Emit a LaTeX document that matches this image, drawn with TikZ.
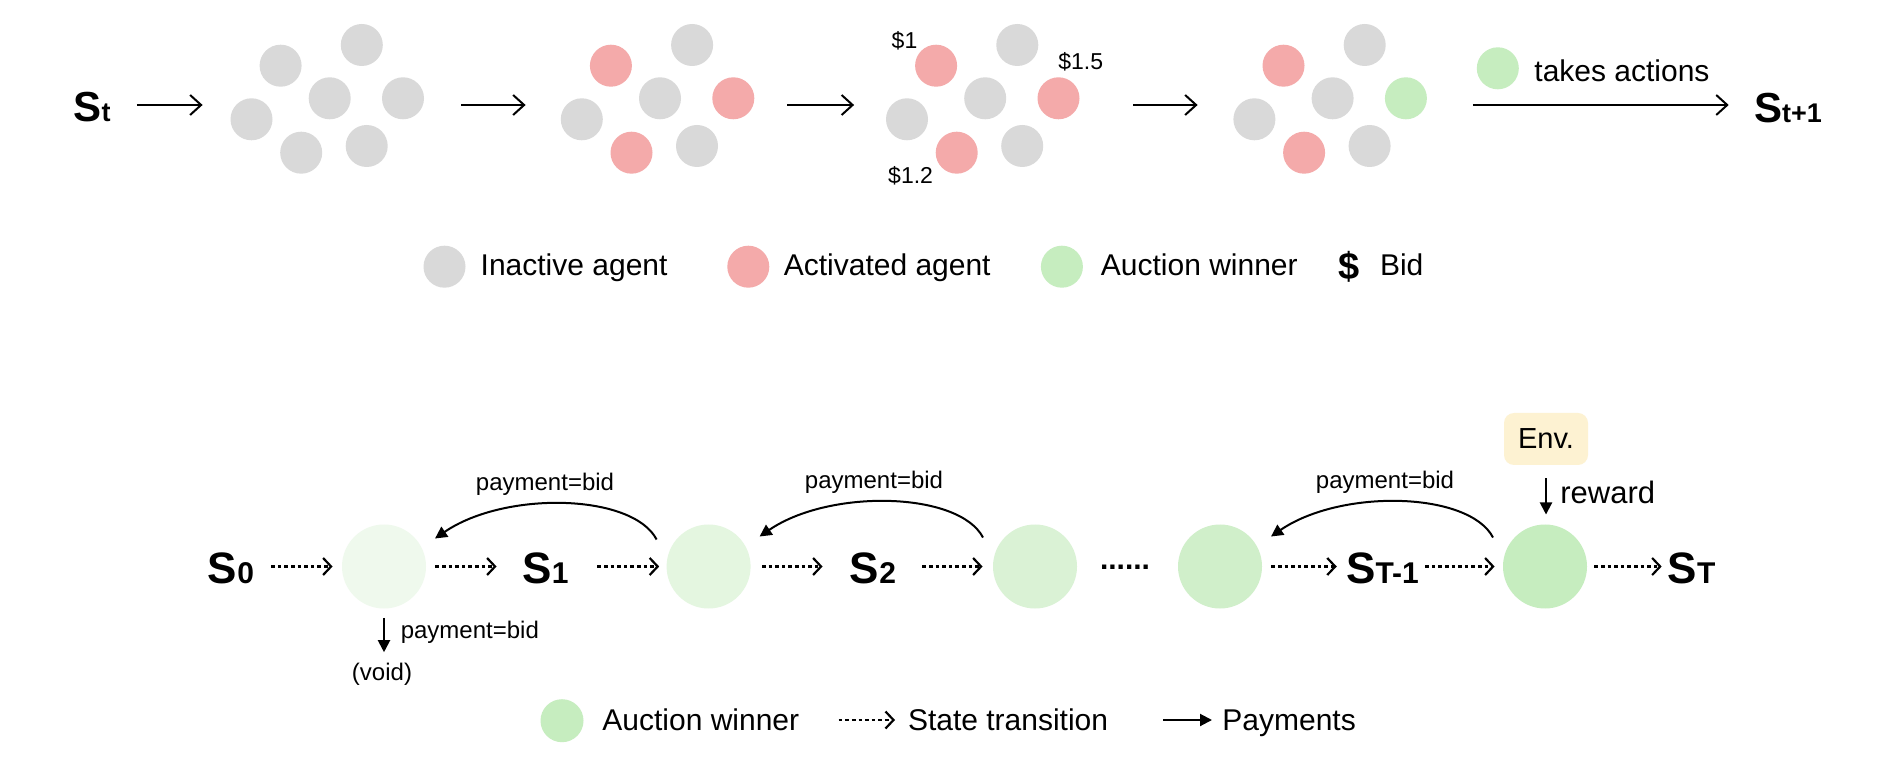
\documentclass[tikz,border=0pt]{standalone}
\usepackage{fontspec}
\setmainfont{Liberation Sans}
\usetikzlibrary{arrows.meta}
\definecolor{cgray}{HTML}{D9D9D9}
\definecolor{cred}{HTML}{F4AAAA}
\definecolor{cgreen}{HTML}{C6EDBF}
\definecolor{cgA}{HTML}{EFF9ED}
\definecolor{cgB}{HTML}{E4F6E0}
\definecolor{cgC}{HTML}{DAF2D5}
\definecolor{cgD}{HTML}{D0EFCA}
\definecolor{cgE}{HTML}{C6EDBF}
\definecolor{envfill}{HTML}{FDF2D2}
\newcommand{\stlab}[3]{{\fontsize{#1}{#1}\selectfont\bfseries S}{\fontsize{#2}{#2}\selectfont\bfseries #3}}
\newcommand{\agentcluster}[5]{%
  \node[agent,fill=#3]    (#1a) at (#2,65.7) {};
  \node[agent,fill=cgray] (#1b) at ({#2+81.2},45) {};
  \node[agent,fill=cgray] (#1c) at ({#2+49.1},98.3) {};
  \node[agent,fill=#4]    (#1d) at ({#2+122.4},98.3) {};
  \node[agent,fill=cgray] (#1e) at ({#2-29.1},119.3) {};
  \node[agent,fill=#5]    (#1f) at ({#2+20.6},152.7) {};
  \node[agent,fill=cgray] (#1g) at ({#2+86.1},146) {};
  \node[inner sep=0pt,minimum width=96.75pt,minimum height=0pt] (#1) at ({#2+46.65},105) {};
}
\begin{document}
\begin{tikzpicture}[x=0.5pt,y=-0.5pt,
  agent/.style={circle,minimum size=21pt,inner sep=0pt,draw=none},
  winner/.style={circle,minimum size=42pt,inner sep=0pt,draw=none},
  flow/.style={line width=1pt,-{Straight Barb[length=5.5pt,width=10pt]}},
  trans/.style={line width=1.1pt,dash pattern=on 1.8pt off 1.5pt,-{Straight Barb[length=4pt,width=8.5pt]}},
  pay/.style={line width=1pt,-{Triangle[length=6pt,width=6pt]}},
  lbl/.style={inner sep=0pt,font=\fontsize{15}{18}\selectfont},
  small/.style={inner sep=0pt,font=\fontsize{12}{14}\selectfont},
  bid/.style={inner sep=0pt,font=\fontsize{11.5}{14}\selectfont},
  slab/.style={inner sep=0pt}]
\fill[white] (0,0) rectangle (1894,758);
\useasboundingbox (0,0) rectangle (1894,758);

% ---------- top row ----------
\node[slab] (st) at (92,107) {\stlab{21}{13.5}{t}};
\agentcluster{ka}{280.6}{cgray}{cgray}{cgray}
\agentcluster{kb}{610.9}{cred}{cred}{cred}
\agentcluster{kc}{936.1}{cred}{cred}{cred}
\agentcluster{kd}{1283.5}{cred}{cgreen}{cred}
\node[slab] (st1) at (1788,108) {\stlab{21}{13.5}{t+1}};

\node[bid] (b1) at (904.5,40.5) {\$1};
\node[bid] (b2) at (1080.7,62) {\$1.5};
\node[bid] (b3) at (910.6,176) {\$1.2};

\draw[flow,shorten <=13pt,shorten >=13.75pt] (st.east |- ka.west) -- (ka.west);
\draw[flow,shorten <=18.3pt,shorten >=17.4pt] (ka.east) -- (kb.west);
\draw[flow,shorten <=16.2pt,shorten >=15.75pt] (kb.east) -- (kc.west);
\draw[flow,shorten <=26.75pt,shorten >=17.7pt] (kc.east) -- (kd.west);
\draw[flow,shorten <=22.75pt,shorten >=12.5pt] (kd.east) -- (st1.west |- kd.east);

\node[agent,fill=cgreen] (ta) at (1497.8,68.3) {};
\node[lbl,anchor=base west] (tat) at (1534,81.5) {takes actions};

% ---------- legend 1 ----------
\node[agent,fill=cgray] (l1) at (444.5,266.7) {};
\node[lbl,anchor=base west] (l1t) at (480.3,276) {Inactive agent};
\node[agent,fill=cred] (l2) at (748.3,266.7) {};
\node[lbl,anchor=base west] (l2t) at (783.4,276) {Activated agent};
\node[agent,fill=cgreen] (l3) at (1061.9,266.7) {};
\node[lbl,anchor=base west] (l3t) at (1100.5,276) {Auction winner};
\node[inner sep=0pt,font=\fontsize{19}{20}\selectfont\bfseries] (l4) at (1349,267) {\$};
\node[lbl,anchor=base west] (l4t) at (1379.6,276) {Bid};

% ---------- bottom chain ----------
\node[slab] (s0) at (231,568) {\stlab{22}{15}{0}};
\node[winner,fill=cgA] (c1) at (384,566.5) {};
\node[slab] (s1) at (545.5,568) {\stlab{22}{15}{1}};
\node[winner,fill=cgB] (c2) at (708.6,566.5) {};
\node[slab] (s2) at (873,568) {\stlab{22}{15}{2}};
\node[winner,fill=cgC] (c3) at (1035,566.5) {};
\node[inner sep=0pt,anchor=base,font=\fontsize{15}{15}\selectfont\bfseries] (dots) at (1125,569) {......};
\node[winner,fill=cgD] (c4) at (1220,566.5) {};
\node[slab] (stm1) at (1382.5,568) {\stlab{22}{15}{T-1}};
\node[winner,fill=cgE] (c5) at (1545,566.5) {};
\node[slab] (sT) at (1691.5,568) {\stlab{22}{15}{T}};

\draw[trans,shorten <=8.4pt,shorten >=4.5pt] (s0.east |- c1.west) -- (c1.west);
\draw[trans,shorten <=4.5pt,shorten >=12.75pt] (c1.east) -- (s1.west |- c1.east);
\draw[trans,shorten <=14.25pt,shorten >=3.5pt] (s1.east |- c2.west) -- (c2.west);
\draw[trans,shorten <=5.5pt,shorten >=13.5pt] (c2.east) -- (s2.west |- c2.east);
\draw[trans,shorten <=13pt,shorten >=5pt] (s2.east |- c3.west) -- (c3.west);
\draw[trans,shorten <=4.5pt,shorten >=4.5pt] (c4.east) -- (stm1.west |- c4.east);
\draw[trans,shorten <=3pt,shorten >=4pt] (stm1.east |- c5.west) -- (c5.west);
\draw[trans,shorten <=3.5pt,shorten >=2.8pt] (c5.east) -- (sT.west |- c5.east);

% payments
\draw[pay] ([shift={(-52,-27)}]c2.center) .. controls +(-24,-46) and +(70,-48) .. ([shift={(51,-28)}]c1.center);
\draw[pay] ([shift={(-52,-29)}]c3.center) .. controls +(-24,-46) and +(70,-48) .. ([shift={(51,-30)}]c2.center);
\draw[pay] ([shift={(-52,-29)}]c5.center) .. controls +(-24,-46) and +(70,-48) .. ([shift={(51,-30)}]c4.center);
\node[small,anchor=base] (p1) at (545,491) {payment=bid};
\node[small,anchor=base] (p2) at (874,488.5) {payment=bid};
\node[small,anchor=base] (p3) at (1385,488.5) {payment=bid};

% void
\node[small,anchor=base] (void) at (382,680) {(void)};
\draw[pay,shorten <=4.5pt,shorten >=5pt] (c1.south) -- (c1.south |- void.north);
\node[small,anchor=base west] (p0) at (400.4,638.3) {payment=bid};

% env
\node[rectangle,rounded corners=5pt,fill=envfill,minimum width=42pt,minimum height=26pt,inner sep=0pt,
      font=\fontsize{14.5}{16}\selectfont] (env) at (1546,439) {Env.};
\draw[pay,shorten <=6.5pt,shorten >=4.8pt] (env.south) -- (env.south |- c5.north);
\node[inner sep=0pt,anchor=base west,font=\fontsize{15.5}{18}\selectfont] (rw) at (1560,503) {reward};

% ---------- legend 2 ----------
\node[circle,minimum size=21.5pt,inner sep=0pt,fill=cgreen] (m1) at (562,720.7) {};
\node[lbl,anchor=base west] (m1t) at (602,730) {Auction winner};
\coordinate (m2a) at (838.7,720);
\coordinate (m2b) at (895,720);
\draw[trans] (m2a) -- (m2b);
\node[lbl,anchor=base west] (m2t) at (907.6,730) {State transition};
\coordinate (m3a) at (1163,720);
\coordinate (m3b) at (1212,720);
\draw[pay] (m3a) -- (m3b);
\node[lbl,anchor=base west] (m3t) at (1222,730) {Payments};
\end{tikzpicture}
\end{document}
